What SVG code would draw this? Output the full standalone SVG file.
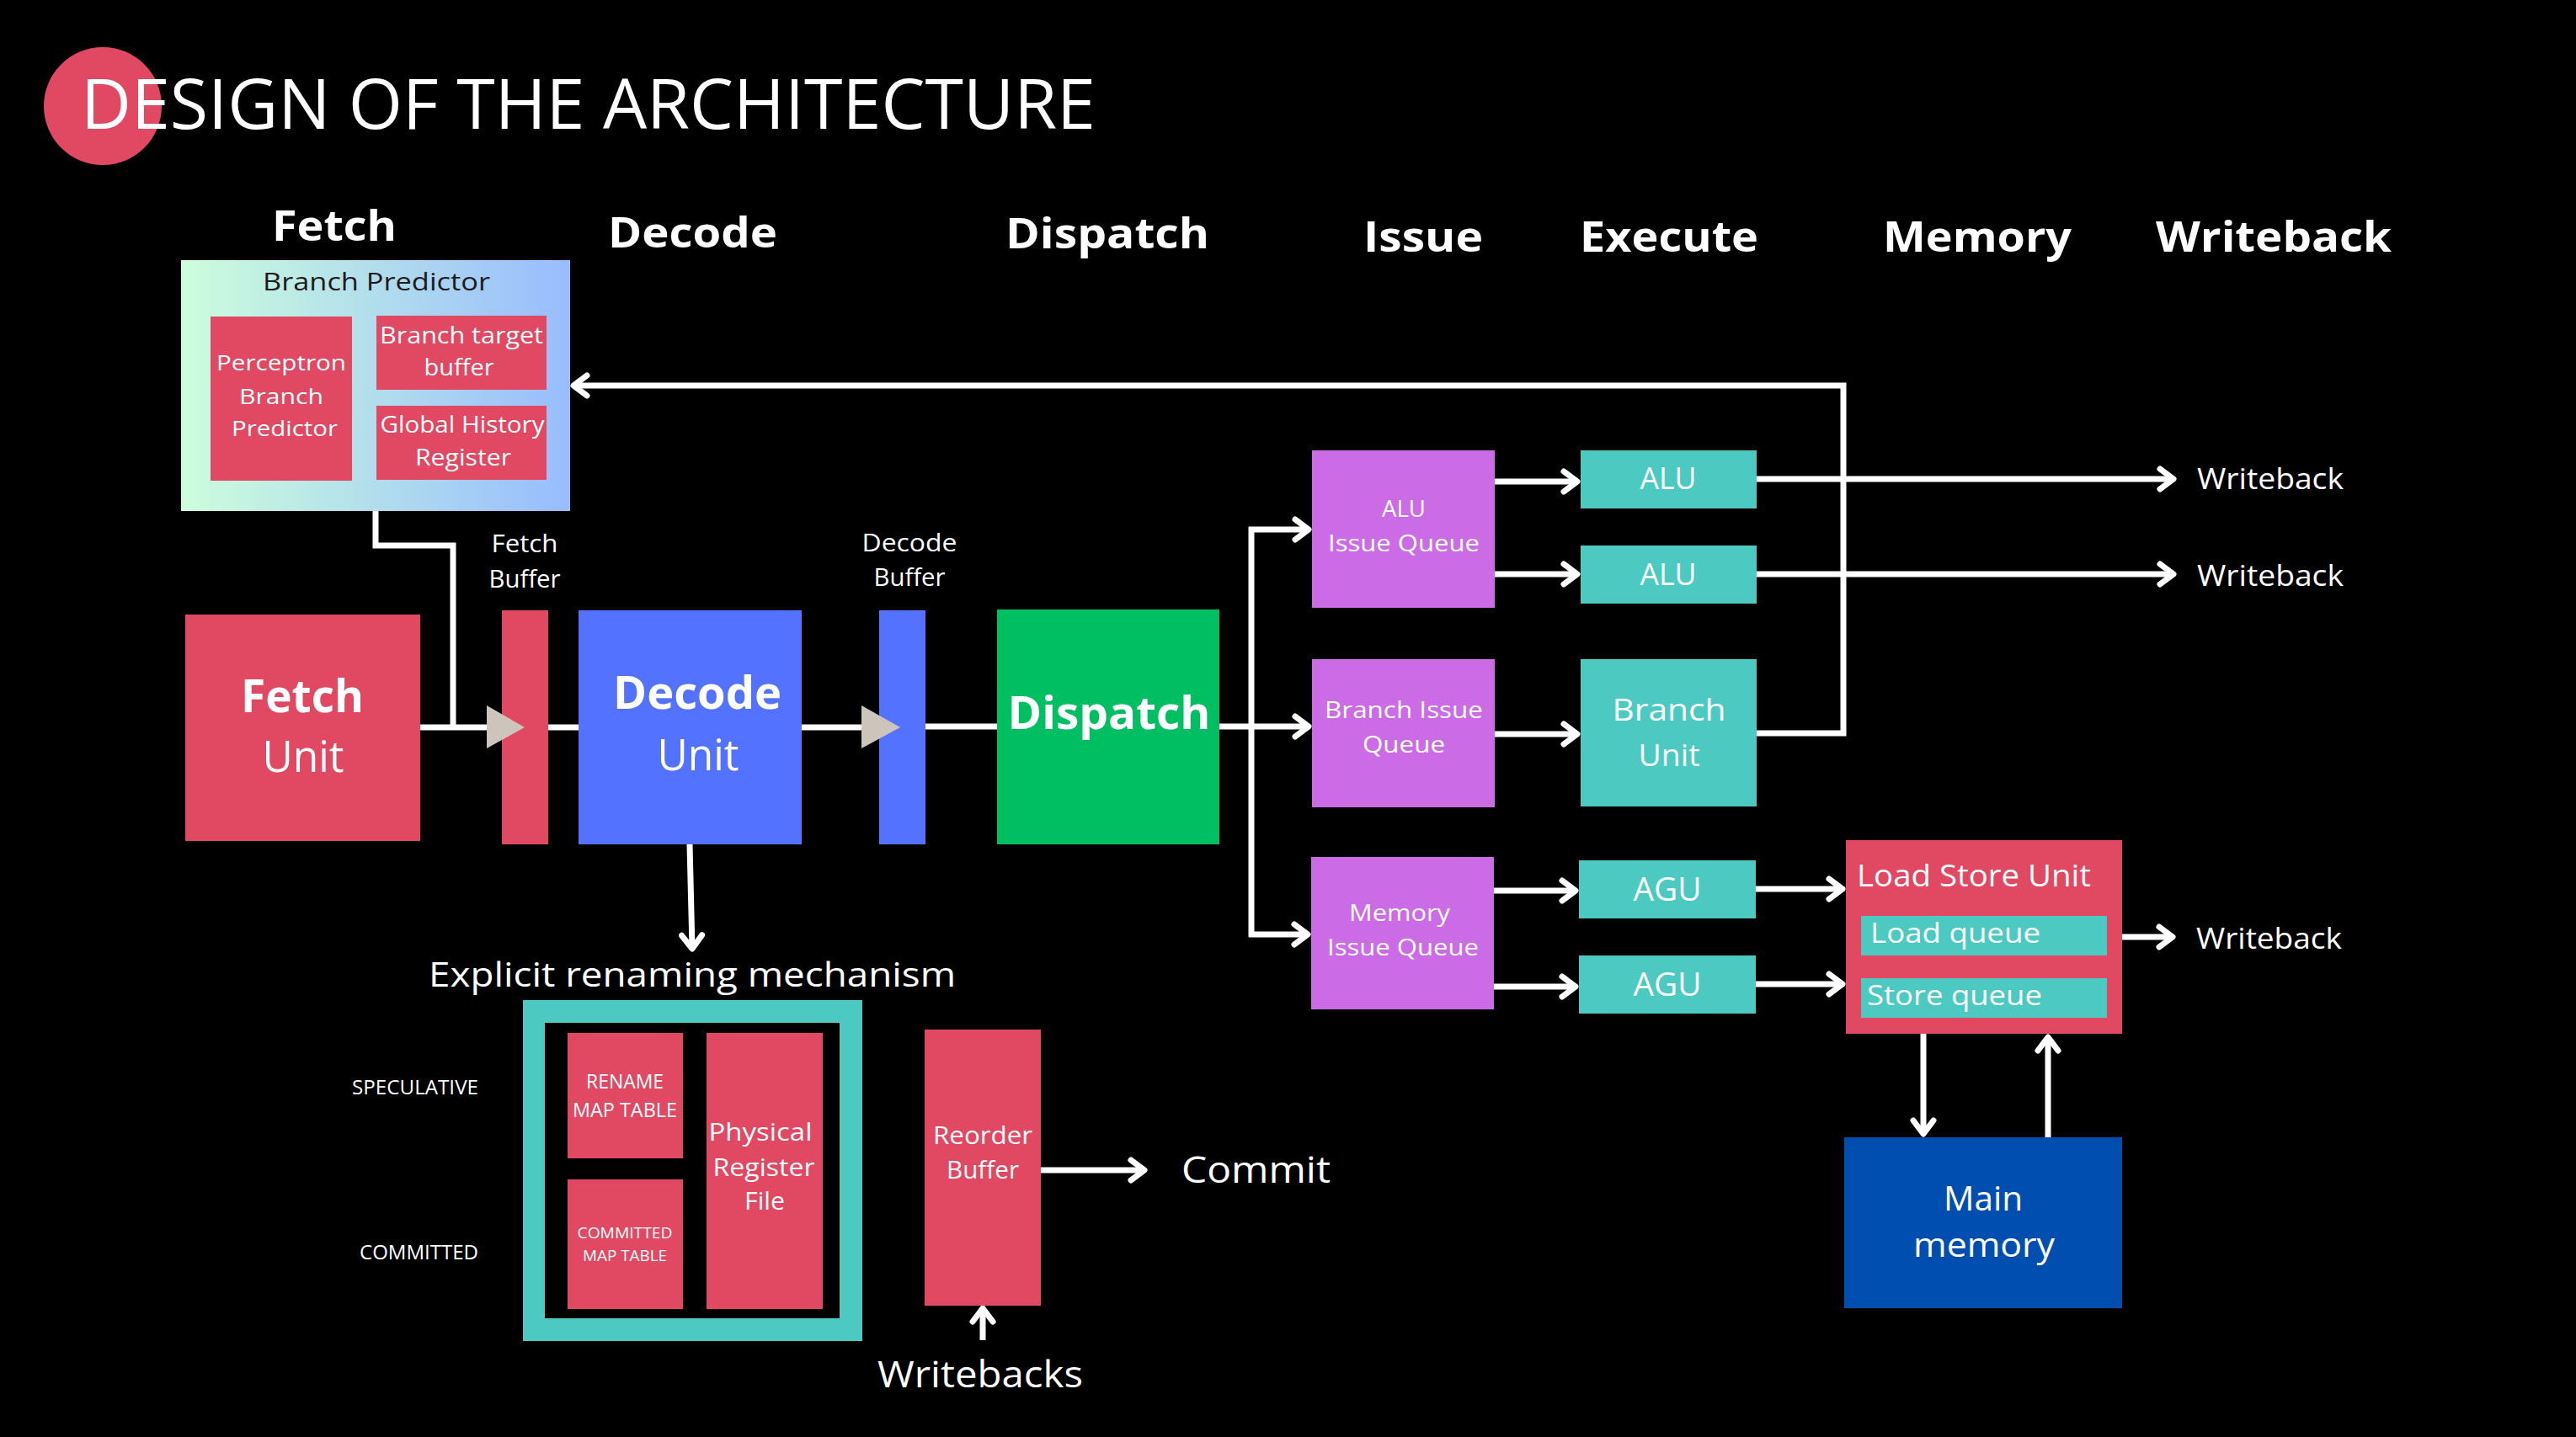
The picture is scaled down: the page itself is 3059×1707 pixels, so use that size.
<svg xmlns="http://www.w3.org/2000/svg" width="3059" height="1707" viewBox="0 0 3059 1707">
<defs>
<linearGradient id="bpGrad" x1="0" y1="0" x2="1" y2="0">
<stop offset="0" stop-color="#ccfedc"/>
<stop offset="1" stop-color="#98bcfd"/>
</linearGradient>
<marker id="arr" markerUnits="userSpaceOnUse" markerWidth="30" markerHeight="34" viewBox="-24 -17 30 34" refX="0" refY="0" orient="auto" overflow="visible">
<path d="M-16,-12 L0,0 L-16,12" fill="none" stroke="#ffffff" stroke-width="7" stroke-linecap="round" stroke-linejoin="round"/>
</marker>
<style>
text{font-family:"Open Sans","Liberation Sans",sans-serif;fill:#ffffff;}
.b{font-weight:700;}
.m{text-anchor:middle;}
.e{text-anchor:end;}
.dark{fill:#1c1c1c;}
.ln{fill:none;stroke:#ffffff;stroke-width:7;stroke-linecap:butt;stroke-linejoin:miter;}
.ar{marker-end:url(#arr);}
.red{fill:#e14862;}
.blue{fill:#5372ff;}
.green{fill:#00bf63;}
.purple{fill:#cb6ce6;}
.teal{fill:#4ccac1;}
.navy{fill:#004eb0;}
.tri{fill:#cdc5bc;}
</style>
</defs>
<rect x="0" y="0" width="3059" height="1707" fill="#000000"/>

<g id="title">
<circle cx="122" cy="126" r="70" fill="#e14862"/>
<text x="96" y="153" font-size="82" textLength="1205" lengthAdjust="spacingAndGlyphs">DESIGN OF THE ARCHITECTURE</text>
</g>

<g id="stage-headers" class="b">
<text class="b" x="323" y="286" font-size="51" textLength="148" lengthAdjust="spacingAndGlyphs">Fetch</text>
<text class="b" x="722" y="294" font-size="51" textLength="201" lengthAdjust="spacingAndGlyphs">Decode</text>
<text class="b" x="1194" y="295" font-size="51" textLength="242" lengthAdjust="spacingAndGlyphs">Dispatch</text>
<text class="b" x="1619" y="299" font-size="51" textLength="142" lengthAdjust="spacingAndGlyphs">Issue</text>
<text class="b" x="1876" y="299" font-size="51" textLength="212" lengthAdjust="spacingAndGlyphs">Execute</text>
<text class="b" x="2236" y="299" font-size="51" textLength="224" lengthAdjust="spacingAndGlyphs">Memory</text>
<text class="b" x="2560" y="299" font-size="51" textLength="280" lengthAdjust="spacingAndGlyphs">Writeback</text>
</g>

<g id="connectors">
<path class="ln" d="M446,607 V648 H538 V864"/>
<path class="ln" d="M499,864 H578"/>
<path class="ln" d="M651,864 H687"/>
<path class="ln" d="M952,864 H1023"/>
<path class="ln" d="M1099,863 H1184"/>
<path class="ln ar" d="M2086,871 H2189 V458 H681"/>
<path class="ln ar" d="M819,1003 L822,1127"/>
<path class="ln ar" d="M1448,863 H1554"/>
<path class="ln" d="M1486,626 V1113"/>
<path class="ln ar" d="M1483,629 H1554"/>
<path class="ln ar" d="M1483,1110 H1553"/>
<path class="ln ar" d="M1775,572 H1873"/>
<path class="ln ar" d="M1775,682 H1873"/>
<path class="ln ar" d="M1775,872 H1873"/>
<path class="ln ar" d="M2086,569 H2581"/>
<path class="ln ar" d="M2086,682 H2581"/>
<path class="ln ar" d="M1774,1058 H1871"/>
<path class="ln ar" d="M1774,1172 H1871"/>
<path class="ln ar" d="M2085,1056 H2188"/>
<path class="ln ar" d="M2085,1169 H2188"/>
<path class="ln ar" d="M2520,1113 H2580"/>
<path class="ln ar" d="M2284,1228 V1347"/>
<path class="ln ar" d="M2432,1351 V1232"/>
<path class="ln ar" d="M1236,1390 H1359"/>
<path class="ln ar" d="M1167,1592 V1554"/>
</g>

<g id="branch-predictor">
<rect x="215" y="309" width="462" height="298" fill="url(#bpGrad)"/>
<text class="m dark" x="447" y="345" font-size="30" textLength="270" lengthAdjust="spacingAndGlyphs">Branch Predictor</text>
<g id="perceptron">
<rect class="red" x="250" y="376" width="168" height="195"/>
<text class="m" x="334" y="440" font-size="26" textLength="154" lengthAdjust="spacingAndGlyphs">Perceptron</text>
<text class="m" x="334" y="480" font-size="26" textLength="100" lengthAdjust="spacingAndGlyphs">Branch</text>
<text class="m" x="338" y="518" font-size="26" textLength="126" lengthAdjust="spacingAndGlyphs">Predictor</text>
</g>
<g id="btb">
<rect class="red" x="447" y="375" width="202" height="88"/>
<text class="m" x="548" y="408" font-size="27" textLength="194" lengthAdjust="spacingAndGlyphs">Branch target</text>
<text class="m" x="545" y="446" font-size="27" textLength="83" lengthAdjust="spacingAndGlyphs">buffer</text>
</g>
<g id="ghr">
<rect class="red" x="447" y="482" width="202" height="88"/>
<text class="m" x="549" y="514" font-size="27" textLength="195" lengthAdjust="spacingAndGlyphs">Global History</text>
<text class="m" x="550" y="553" font-size="27" textLength="114" lengthAdjust="spacingAndGlyphs">Register</text>
</g>
</g>

<g id="fetch-unit">
<rect class="red" x="220" y="730" width="279" height="269"/>
<text class="m b" x="359" y="846" font-size="54" textLength="146" lengthAdjust="spacingAndGlyphs">Fetch</text>
<text class="m" x="360" y="917" font-size="51" textLength="97" lengthAdjust="spacingAndGlyphs">Unit</text>
</g>

<g id="fetch-buffer">
<text class="m" x="623" y="656" font-size="30" textLength="79" lengthAdjust="spacingAndGlyphs">Fetch</text>
<text class="m" x="623" y="698" font-size="30" textLength="85" lengthAdjust="spacingAndGlyphs">Buffer</text>
<rect class="red" x="596" y="725" width="55" height="278"/>
<polygon class="tri" points="578,838 623,864 578,889"/>
</g>

<g id="decode-unit">
<rect class="blue" x="687" y="725" width="265" height="278"/>
<text class="m b" x="828" y="842" font-size="53" textLength="200" lengthAdjust="spacingAndGlyphs">Decode</text>
<text class="m" x="829" y="915" font-size="51" textLength="97" lengthAdjust="spacingAndGlyphs">Unit</text>
</g>

<g id="decode-buffer">
<text class="m" x="1080" y="655" font-size="30" textLength="113" lengthAdjust="spacingAndGlyphs">Decode</text>
<text class="m" x="1080" y="696" font-size="30" textLength="85" lengthAdjust="spacingAndGlyphs">Buffer</text>
<rect class="blue" x="1044" y="725" width="55" height="278"/>
<polygon class="tri" points="1023,838 1069,864 1023,889"/>
</g>

<g id="dispatch">
<rect class="green" x="1184" y="724" width="264" height="279"/>
<text class="m b" x="1317" y="866" font-size="54" textLength="241" lengthAdjust="spacingAndGlyphs">Dispatch</text>
</g>

<g id="alu-issue-queue">
<rect class="purple" x="1558" y="535" width="217" height="187"/>
<text class="m" x="1667" y="614" font-size="27" textLength="52" lengthAdjust="spacingAndGlyphs">ALU</text>
<text class="m" x="1667" y="655" font-size="27" textLength="180" lengthAdjust="spacingAndGlyphs">Issue Queue</text>
</g>

<g id="branch-issue-queue">
<rect class="purple" x="1558" y="783" width="217" height="176"/>
<text class="m" x="1667" y="853" font-size="27" textLength="188" lengthAdjust="spacingAndGlyphs">Branch Issue</text>
<text class="m" x="1667" y="894" font-size="27" textLength="98" lengthAdjust="spacingAndGlyphs">Queue</text>
</g>

<g id="memory-issue-queue">
<rect class="purple" x="1557" y="1018" width="217" height="181"/>
<text class="m" x="1662" y="1094" font-size="28" textLength="120" lengthAdjust="spacingAndGlyphs">Memory</text>
<text class="m" x="1666" y="1135" font-size="28" textLength="180" lengthAdjust="spacingAndGlyphs">Issue Queue</text>
</g>

<g id="alu-1">
<rect class="teal" x="1877" y="535" width="209" height="69"/>
<text class="m" x="1981" y="581" font-size="37" textLength="67" lengthAdjust="spacingAndGlyphs">ALU</text>
</g>
<g id="alu-2">
<rect class="teal" x="1877" y="648" width="209" height="69"/>
<text class="m" x="1981" y="695" font-size="37" textLength="67" lengthAdjust="spacingAndGlyphs">ALU</text>
</g>
<g id="branch-unit">
<rect class="teal" x="1877" y="783" width="209" height="175"/>
<text class="m" x="1982" y="856" font-size="37" textLength="135" lengthAdjust="spacingAndGlyphs">Branch</text>
<text class="m" x="1982" y="910" font-size="37" textLength="73" lengthAdjust="spacingAndGlyphs">Unit</text>
</g>
<g id="agu-1">
<rect class="teal" x="1875" y="1022" width="210" height="69"/>
<text class="m" x="1980" y="1070" font-size="38" textLength="81" lengthAdjust="spacingAndGlyphs">AGU</text>
</g>
<g id="agu-2">
<rect class="teal" x="1875" y="1135" width="210" height="69"/>
<text class="m" x="1980" y="1183" font-size="38" textLength="81" lengthAdjust="spacingAndGlyphs">AGU</text>
</g>

<g id="writeback-labels">
<text x="2609" y="581" font-size="35" textLength="174" lengthAdjust="spacingAndGlyphs">Writeback</text>
<text x="2609" y="696" font-size="35" textLength="174" lengthAdjust="spacingAndGlyphs">Writeback</text>
<text x="2608" y="1127" font-size="35" textLength="173" lengthAdjust="spacingAndGlyphs">Writeback</text>
</g>

<g id="load-store-unit">
<rect class="red" x="2192" y="998" width="328" height="230"/>
<text x="2205" y="1053" font-size="36" textLength="278" lengthAdjust="spacingAndGlyphs">Load Store Unit</text>
<rect class="teal" x="2210" y="1088" width="292" height="47"/>
<text x="2221" y="1120" font-size="33" textLength="202" lengthAdjust="spacingAndGlyphs">Load queue</text>
<rect class="teal" x="2210" y="1162" width="292" height="47"/>
<text x="2217" y="1194" font-size="33" textLength="208" lengthAdjust="spacingAndGlyphs">Store queue</text>
</g>

<g id="main-memory">
<rect class="navy" x="2190" y="1351" width="330" height="203"/>
<text class="m" x="2355" y="1438" font-size="40" textLength="94" lengthAdjust="spacingAndGlyphs">Main</text>
<text class="m" x="2356" y="1493" font-size="40" textLength="168" lengthAdjust="spacingAndGlyphs">memory</text>
</g>

<g id="renaming-mechanism">
<text x="509" y="1172" font-size="41" textLength="626" lengthAdjust="spacingAndGlyphs">Explicit renaming mechanism</text>
<rect class="teal" x="621" y="1188" width="403" height="405"/>
<rect x="647" y="1215" width="350" height="351" fill="#000000"/>
<g id="rename-map-table">
<rect class="red" x="674" y="1227" width="137" height="149"/>
<text class="m" x="742" y="1293" font-size="23" textLength="92" lengthAdjust="spacingAndGlyphs">RENAME</text>
<text class="m" x="742" y="1327" font-size="23" textLength="124" lengthAdjust="spacingAndGlyphs">MAP TABLE</text>
</g>
<g id="committed-map-table">
<rect class="red" x="674" y="1401" width="137" height="154"/>
<text class="m" x="742" y="1471" font-size="19" textLength="113" lengthAdjust="spacingAndGlyphs">COMMITTED</text>
<text class="m" x="742" y="1498" font-size="19" textLength="100" lengthAdjust="spacingAndGlyphs">MAP TABLE</text>
</g>
<g id="physical-register-file">
<rect class="red" x="839" y="1227" width="138" height="328"/>
<text class="m" x="903" y="1355" font-size="30" textLength="123" lengthAdjust="spacingAndGlyphs">Physical</text>
<text class="m" x="907" y="1397" font-size="30" textLength="121" lengthAdjust="spacingAndGlyphs">Register</text>
<text class="m" x="908" y="1437" font-size="30" textLength="48" lengthAdjust="spacingAndGlyphs">File</text>
</g>
</g>

<g id="state-labels">
<text class="e" x="568" y="1300" font-size="23" textLength="150" lengthAdjust="spacingAndGlyphs">SPECULATIVE</text>
<text class="e" x="568" y="1496" font-size="23" textLength="141" lengthAdjust="spacingAndGlyphs">COMMITTED</text>
</g>

<g id="reorder-buffer">
<rect class="red" x="1098" y="1223" width="138" height="328"/>
<text class="m" x="1167" y="1359" font-size="29" textLength="118" lengthAdjust="spacingAndGlyphs">Reorder</text>
<text class="m" x="1167" y="1400" font-size="29" textLength="86" lengthAdjust="spacingAndGlyphs">Buffer</text>
</g>

<g id="commit-labels">
<text x="1403" y="1405" font-size="43" textLength="177" lengthAdjust="spacingAndGlyphs">Commit</text>
<text x="1042" y="1648" font-size="43" textLength="244" lengthAdjust="spacingAndGlyphs">Writebacks</text>
</g>
</svg>
